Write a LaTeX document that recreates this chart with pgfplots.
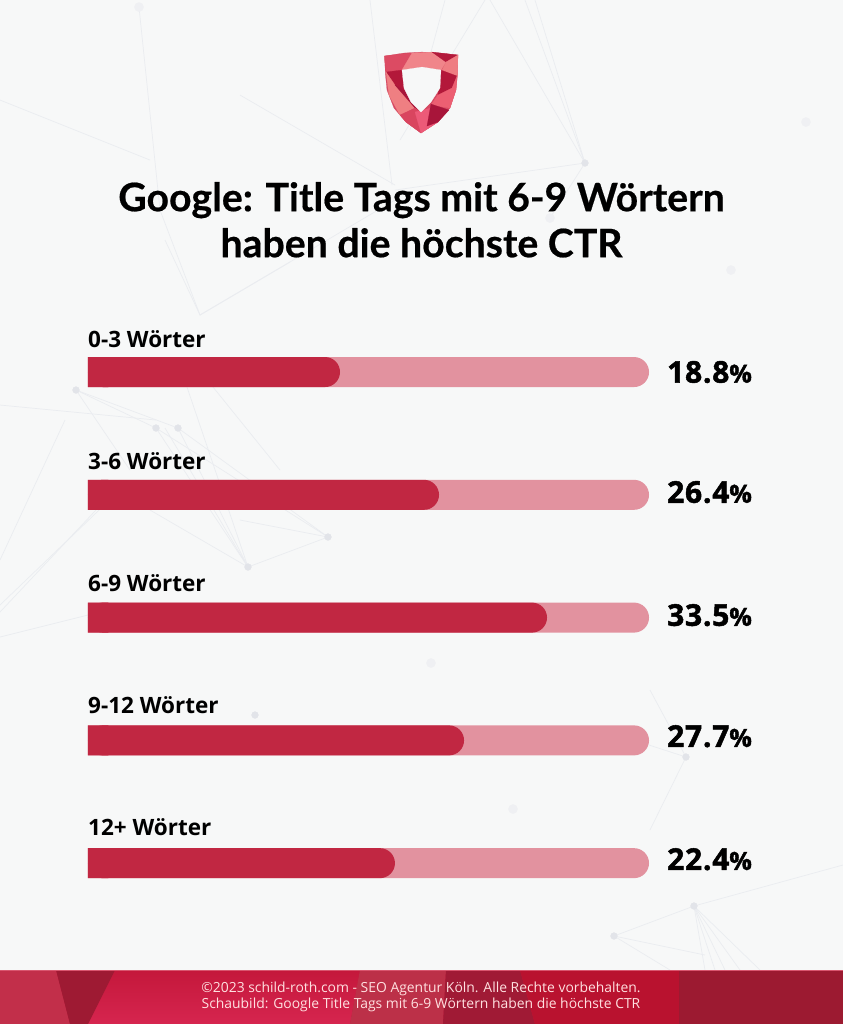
\documentclass[border=0pt]{standalone}
\usepackage{fontspec}
\setmainfont{Open Sans}
\newfontfamily\latofont[BoldFeatures={FakeBold=0.5}]{Lato}
\newfontfamily\xbfont[BoldFeatures={FakeBold=1.6},LetterSpace=2.5]{Open Sans}
\usepackage{pgfplots}
\usepackage{pgfplotstable}
\pgfplotsset{compat=1.18}
\definecolor{barc}{HTML}{C12742}
\definecolor{trackc}{HTML}{E2929F}
\definecolor{netc}{HTML}{EAECF0}
\definecolor{nodec}{HTML}{E2E4E9}
\definecolor{nodef}{HTML}{EFF0F3}
\newcommand{\hx}[1]{\definecolor{c#1}{HTML}{#1}}
\hx{F7F8F8}\hx{D9566F}\hx{C4183B}\hx{D6254F}\hx{C22F4A}\hx{9E1A33}\hx{BC3048}\hx{A01A35}\hx{B9122F}\hx{9C1A31}
\hx{D64A62}\hx{DC4B63}\hx{F0858A}\hx{B31A3B}\hx{EF7D82}\hx{B3183A}\hx{EF7F82}\hx{A8153A}\hx{D9455F}\hx{EC5A78}\hx{EC5F72}
\pgfplotstableread{
row len full lab laby
0 18.53 41.25 18.8 0.0
1 25.81 41.25 26.4 0.978
2 33.75 41.25 33.5 1.98
3 27.65 41.25 27.7 2.966
4 22.57 41.25 22.4 3.968
}\bars
\newcommand{\net}[1]{\addplot[netc,line width=0.7pt] coordinates {#1};}
\newcommand{\fac}[2]{\addplot[fill=c#1,draw=c#1,line width=0.2pt] coordinates {#2} --cycle;}
\newcommand{\foot}[2]{\addplot[fill=c#1,draw=none] coordinates {#2} --cycle;}
\begin{document}
\begin{tikzpicture}
% ---- background layer in picture pixels
\begin{axis}[at={(0,0)},anchor=south west,scale only axis,width=843pt,height=1024pt,
  xmin=0,xmax=843,ymin=0,ymax=1024,y dir=reverse,hide axis,clip=true]
\foot{F7F8F8}{(0,0)(843,0)(843,1024)(0,1024)}
\net{(139,7)(160,210)(200,315)}
\net{(240,95)(395,185)}
\net{(0,100)(150,160)}
\net{(370,0)(392,185)}
\net{(485,0)(400,140)}
\net{(445,0)(410,130)}
\net{(490,0)(585,163)}
\net{(525,0)(585,163)}
\net{(535,0)(585,163)}
\net{(585,163)(395,190)}
\net{(585,163)(550,218)}
\net{(200,315)(395,200)}
\net{(200,315)(290,262)}
\net{(165,240)(200,315)}
\net{(76,390)(156,428)}
\net{(76,390)(178,428)}
\net{(76,390)(130,470)}
\net{(0,405)(156,420)}
\net{(156,428)(248,567)}
\net{(165,428)(248,567)}
\net{(178,428)(248,567)}
\net{(187,387)(248,567)}
\net{(213,387)(280,470)}
\net{(178,428)(328,537)}
\net{(156,428)(328,537)}
\net{(0,560)(65,420)}
\net{(0,605)(120,490)}
\net{(0,612)(96,510)}
\net{(0,637)(88,615)}
\net{(248,567)(328,537)}
\net{(328,537)(240,520)}
\net{(248,567)(150,510)}
\net{(650,690)(686,757)}
\net{(649,745)(686,757)}
\net{(686,757)(650,830)}
\net{(694,906)(725,970)}
\net{(694,906)(705,970)}
\net{(694,906)(715,970)}
\net{(694,906)(740,970)}
\net{(694,906)(760,970)}
\net{(694,906)(843,865)}
\net{(614,936)(694,906)}
\net{(614,936)(670,970)}
\net{(614,936)(705,955)}
\addplot[only marks,mark=*,mark size=3.4pt,mark options={fill=nodec,draw=nodec}] coordinates {
(585,163)(76,390)(156,428)(178,428)(328,537)(248,567)(686,757)(694,906)(614,936)(255,715)};
\addplot[only marks,mark=*,mark size=4.5pt,mark options={fill=nodef,draw=nodef}] coordinates {
(139,7)(550,218)(806,122)(731,270)(431,663)(513,809)};
% footer
\foot{C4183B}{(0,970)(843,970)(843,1024)(0,1024)}
\addplot[top color=cC4183B,bottom color=cD6254F,draw=none] coordinates {(110,970)(360,970)(350,1024)(85,1024)} --cycle;
\foot{C22F4A}{(0,970)(56,970)(70,1024)(0,1024)}
\foot{9E1A33}{(56,970)(115,970)(88,1024)(70,1024)}
\foot{BC3048}{(360,970)(446,970)(443,1024)(350,1024)}
\foot{A01A35}{(446,970)(520,970)(535,1024)(443,1024)}
\foot{B9122F}{(520,970)(679,970)(679,1024)(535,1024)}
\foot{9C1A31}{(679,970)(843,970)(843,1024)(679,1024)}
\foot{D9566F}{(0,969.5)(843,969.5)(843,971)(0,971)}
% shield
\fac{D64A62}{(384.5,56)(404,53)(422,52)(440,53)(458,55)(457.5,75)(456,90)(450,108)(438,122)(421,133)(406,122)(394,108)(387,90)(385.5,75)}
\fac{DC4B63}{(384.5,56)(412,53)(402,70)(386,72)}
\fac{F0858A}{(412,53)(432,52)(446,62)(441,70)(422,67)(402,70)}
\fac{B31A3B}{(432,52)(458,55)(446,62)}
\fac{EF7D82}{(458,55)(457.5,76)(441,72)(446,62)}
\fac{B3183A}{(386,72)(402,70)(407,92)(395,85)}
\fac{EF7F82}{(386,72)(395,85)(415,108)(400,115)(389,95)}
\fac{A8153A}{(395,85)(407,92)(421,112)(415,108)}
\fac{D9455F}{(400,115)(415,108)(421,112)(421,133)(406,122)}
\fac{EC5A78}{(415,112)(431,108)(438,122)(421,133)}
\fac{B3183A}{(441,70)(457,76)(452,88)(438,95)}
\fac{EC5F72}{(457,76)(456,90)(450,108)(431,105)(438,95)(452,88)}
\fac{A8153A}{(431,104)(449,110)(438,122)(427,126)}
\fac{F7F8F8}{(402,70)(422,67)(441,70)(440,88)(431,102)(421,112)(411,102)(404,88)}
% footer text
\node[font=\fontsize{13.9}{16}\selectfont,text=white!88!red,align=center] at (axis cs:421,996.5)
 {©2023 schild-roth.com - SEO Agentur Köln. Alle Rechte vorbehalten.\\Schaubild: Google Title Tags mit 6-9 Wörtern haben die höchste CTR};
\end{axis}
% ---- chart
\begin{axis}[at={(0,0)},anchor=south west,scale only axis,width=843pt,height=1024pt,
  xmin=-6.47,xmax=55.51,
  ymin=-3.03,ymax=5.31,y dir=reverse,clip=false,
  axis line style={draw=none},major tick style={draw=none},
  xtick=\empty,ytick={0,0.994,1.988,2.982,3.976},
  yticklabels={0-3 Wörter,3-6 Wörter,6-9 Wörter,9-12 Wörter,12+ Wörter},
  yticklabel style={anchor=base west,inner sep=0pt,xshift=88pt,yshift=25pt,
    font=\fontsize{22.5}{24}\selectfont\bfseries,text=black},
  title={Google: Title Tags mit 6-9 Wörtern\\haben die höchste CTR},
  title style={at={(axis description cs:0.5,0.7795)},anchor=center,align=center,inner sep=0pt,
    font=\latofont\fontsize{39.2}{46}\selectfont\bfseries,text=black}]
\addplot[xbar,bar width=30pt,bar shift=0pt,fill=trackc,draw=none,rounded corners=15pt] table[x=full,y=row]{\bars};
\addplot[xbar,bar width=30pt,bar shift=0pt,fill=trackc,draw=none] table[x expr=1.5,y=row]{\bars};
\addplot[xbar,bar width=30pt,bar shift=0pt,fill=barc,draw=none,rounded corners=15pt] table[x=len,y=row]{\bars};
\addplot[xbar,bar width=30pt,bar shift=0pt,fill=barc,draw=none] table[x expr=1.5,y=row]{\bars};
\addplot[only marks,mark=none,point meta=explicit symbolic,
  nodes near coords={\pgfplotspointmeta{\fontsize{25}{24}\selectfont\%}},
  every node near coord/.append style={anchor=west,inner sep=0pt,text=black,
    font=\xbfont\fontsize{30}{32}\selectfont\bfseries}]
  table[x expr=42.57,y=laby,meta=lab]{\bars};
\end{axis}
\end{tikzpicture}
\end{document}
